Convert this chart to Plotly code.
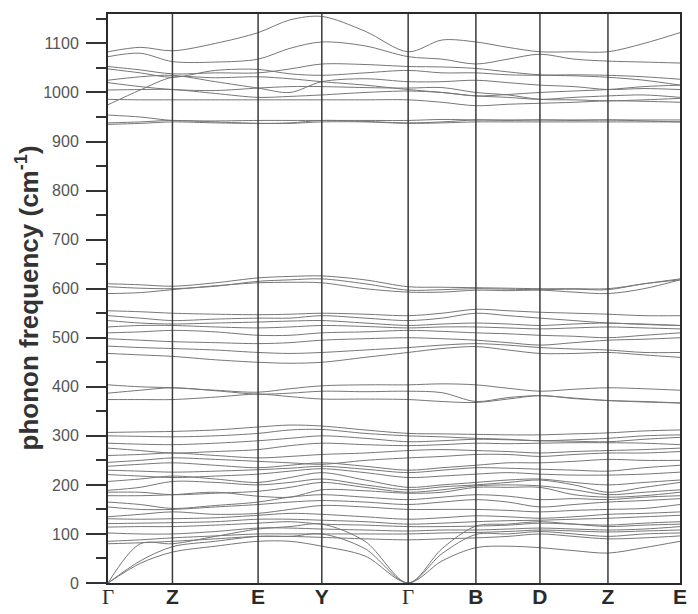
import plotly.graph_objects as go

# High-symmetry k-path (cumulative distance) and labels
kpoint_pos = [0, 64.4, 150, 213.7, 300, 367.7, 431.7, 499.7, 571.7]
kpoint_labels = ['<span style="font-family:Liberation Serif;font-weight:normal">Γ</span>',
                 "<b>Z</b>", "<b>E</b>", "<b>Y</b>",
                 '<span style="font-family:Liberation Serif;font-weight:normal">Γ</span>',
                 "<b>B</b>", "<b>D</b>", "<b>Z</b>", "<b>E</b>"]

# Band frequencies (cm^-1) sampled at: Γ, mid, Z, mid, E, mid, Y, mid, Γ, mid, B, mid, D, mid, Z, mid, E
high_bands = [
    [1083, 1092, 1085, 1100, 1122, 1148, 1155, 1125, 1083, 1107, 1103, 1092, 1083, 1083, 1083, 1100, 1122],
    [1073, 1080, 1063, 1062, 1068, 1090, 1103, 1095, 1073, 1068, 1058, 1068, 1078, 1068, 1064, 1062, 1060],
    [1053, 1046, 1038, 1040, 1040, 1048, 1058, 1057, 1053, 1052, 1049, 1042, 1036, 1036, 1035, 1032, 1027],
    [1048, 1040, 1031, 1045, 1047, 1038, 1035, 1040, 1045, 1040, 1040, 1036, 1035, 1034, 1031, 1025, 1015],
    [1025, 1032, 1035, 1022, 1009, 1000, 1022, 1028, 1022, 1022, 1025, 1020, 1015, 1012, 1006, 1008, 1006],
    [1020, 1012, 1006, 1004, 1009, 1012, 1012, 1010, 1009, 1010, 1000, 995, 986, 985, 983, 985, 988],
    [1005, 1006, 1006, 998, 990, 992, 995, 1000, 1003, 1000, 993, 990, 986, 990, 993, 995, 990],
    [986, 985, 985, 985, 985, 985, 985, 985, 985, 980, 973, 976, 978, 980, 983, 982, 980],
    [975, 1005, 1031, 1030, 1032, 1028, 1022, 1015, 1006, 1000, 993, 996, 1000, 1003, 1006, 1012, 1015],
    [954, 950, 943, 942, 943, 943, 943, 943, 943, 945, 944, 944, 944, 944, 944, 944, 944],
    [938, 940, 943, 940, 937, 938, 943, 941, 938, 940, 944, 943, 944, 943, 944, 942, 940],
    [935, 937, 940, 938, 937, 937, 940, 940, 937, 938, 940, 940, 940, 940, 940, 940, 940],
]
band_600 = [
    [610, 608, 605, 612, 622, 625, 626, 618, 604, 603, 602, 601, 600, 600, 600, 610, 620],
    [604, 601, 600, 605, 615, 618, 620, 610, 597, 598, 600, 599, 598, 599, 598, 610, 618],
    [590, 592, 598, 606, 612, 613, 612, 600, 593, 593, 597, 596, 597, 593, 590, 600, 618],
]
band_500 = [
    [555, 553, 550, 548, 547, 548, 550, 548, 545, 550, 558, 555, 552, 550, 548, 545, 545],
    [545, 540, 535, 538, 540, 540, 545, 540, 535, 540, 550, 545, 540, 535, 530, 528, 525],
    [535, 530, 528, 530, 532, 534, 535, 530, 525, 528, 530, 528, 525, 528, 530, 527, 525],
    [522, 525, 525, 522, 520, 522, 525, 523, 520, 522, 522, 520, 518, 520, 522, 520, 518],
    [510, 512, 515, 512, 505, 505, 510, 512, 515, 513, 510, 508, 505, 503, 500, 505, 510],
    [498, 495, 492, 490, 488, 490, 495, 498, 500, 498, 495, 490, 485, 490, 495, 497, 500],
    [483, 480, 478, 475, 470, 468, 470, 475, 480, 485, 488, 485, 480, 477, 475, 470, 470],
    [468, 465, 462, 455, 450, 448, 450, 460, 470, 478, 482, 475, 468, 468, 470, 465, 460],
]
band_400 = [
    [404, 400, 398, 393, 389, 396, 402, 404, 404, 406, 404, 397, 391, 395, 398, 396, 393],
    [387, 393, 398, 392, 385, 387, 391, 390, 391, 388, 370, 378, 382, 377, 372, 370, 367],
    [374, 374, 374, 379, 385, 380, 375, 375, 374, 370, 368, 375, 382, 376, 372, 369, 367],
]
low_bands = [
    [307, 308, 309, 312, 318, 322, 320, 312, 305, 304, 303, 302, 302, 304, 306, 310, 312],
    [300, 299, 298, 300, 305, 312, 313, 305, 300, 298, 295, 293, 290, 292, 295, 300, 302],
    [285, 283, 282, 285, 290, 295, 300, 295, 288, 290, 293, 292, 290, 289, 288, 293, 297],
    [275, 270, 265, 268, 272, 280, 285, 282, 280, 282, 285, 284, 285, 286, 286, 285, 282],
    [260, 262, 265, 260, 255, 258, 262, 265, 270, 272, 270, 268, 265, 268, 270, 272, 275],
    [246, 250, 255, 252, 248, 245, 242, 250, 255, 258, 262, 262, 258, 262, 265, 265, 268],
    [238, 242, 245, 240, 235, 240, 245, 238, 230, 235, 240, 245, 245, 248, 252, 250, 250],
    [230, 228, 226, 228, 231, 234, 238, 232, 225, 230, 235, 234, 232, 230, 228, 235, 240],
    [221, 218, 215, 218, 222, 228, 233, 225, 215, 218, 222, 225, 222, 220, 220, 222, 226],
    [207, 212, 218, 212, 205, 215, 225, 210, 195, 200, 205, 210, 212, 205, 200, 205, 210],
    [189, 195, 207, 205, 200, 205, 212, 200, 190, 196, 200, 205, 210, 200, 185, 195, 205],
    [185, 185, 180, 183, 187, 195, 205, 195, 185, 190, 198, 200, 198, 190, 180, 185, 190],
    [178, 178, 180, 185, 177, 175, 190, 188, 183, 185, 195, 195, 195, 180, 175, 178, 185],
    [165, 160, 152, 158, 165, 175, 180, 175, 170, 175, 180, 177, 170, 172, 170, 175, 178],
    [155, 150, 150, 155, 160, 165, 168, 165, 160, 165, 170, 165, 155, 160, 165, 168, 172],
    [135, 140, 145, 140, 142, 150, 158, 155, 150, 150, 150, 148, 145, 148, 150, 152, 160],
    [131, 130, 131, 133, 138, 142, 140, 135, 130, 133, 137, 135, 132, 135, 140, 142, 145],
    [121, 122, 123, 125, 130, 130, 128, 125, 120, 122, 125, 127, 128, 130, 132, 135, 138],
    [114, 115, 115, 118, 122, 125, 120, 118, 115, 115, 116, 118, 122, 120, 118, 122, 125],
    [102, 100, 100, 105, 112, 112, 110, 108, 106, 108, 108, 110, 112, 110, 108, 110, 115],
    [85, 88, 92, 96, 100, 100, 100, 100, 100, 102, 103, 105, 108, 106, 104, 106, 108],
    [80, 82, 85, 90, 95, 95, 93, 90, 88, 90, 92, 95, 100, 95, 90, 92, 96],
]
acoustic_bands = [
    [0, 40, 63, 75, 85, 85, 75, 55, 0, 45, 72, 75, 72, 66, 61, 72, 85],
    [0, 45, 74, 85, 95, 95, 100, 70, 0, 60, 99, 100, 105, 100, 95, 100, 102],
    [0, 80, 80, 95, 110, 115, 120, 85, 0, 70, 116, 120, 125, 120, 115, 118, 120],
]

# sample positions: k-points plus midpoints
xs = []
for i in range(len(kpoint_pos) - 1):
    xs.append(kpoint_pos[i])
    xs.append((kpoint_pos[i] + kpoint_pos[i + 1]) / 2)
xs.append(kpoint_pos[-1])

fig = go.Figure()
all_bands = high_bands + band_600 + band_500 + band_400 + low_bands + acoustic_bands
for b in all_bands:
    fig.add_trace(go.Scatter(x=xs, y=b, mode="lines",
                             line=dict(color="#777777", width=1, shape="spline", smoothing=0.9),
                             showlegend=False, hoverinfo="skip"))

for xp in kpoint_pos[1:-1]:
    fig.add_shape(type="line", x0=xp, x1=xp, y0=0, y1=1, xref="x", yref="paper",
                  line=dict(color="#3a3a3a", width=1.5), layer="above")

fig.add_annotation(text="<b>phonon frequency (cm<sup>-1</sup>)</b>", xref="paper", yref="paper",
                   x=(20 - 100) / 572, y=0.5, xanchor="center", yanchor="middle",
                   textangle=-90, showarrow=False,
                   font=dict(family="Liberation Sans, Arial", size=26, color="#333333"))

fig.update_layout(
    width=690, height=606,
    margin=dict(l=100, r=18, t=6, b=30.5),
    plot_bgcolor="white", paper_bgcolor="white",
    xaxis=dict(range=[0, kpoint_pos[-1]], tickmode="array", tickvals=kpoint_pos, ticktext=kpoint_labels,
               automargin=False, ticklabelstandoff=-6,
               showgrid=False, zeroline=False, showline=True, linecolor="#2a2a2a", linewidth=2, mirror=True,
               ticks="", tickfont=dict(family="Liberation Sans, Arial", size=21, color="#2a2a2a")),
    yaxis=dict(range=[0, 1160], tickmode="array", tickvals=list(range(0, 1101, 100)),
               automargin=False,
               showgrid=False, zeroline=False, showline=True, linecolor="#2a2a2a", linewidth=2, mirror=True,
               ticks="outside", ticklen=20, tickwidth=2, tickcolor="#333333",
               minor=dict(tickvals=list(range(50, 1151, 100)), ticks="outside", ticklen=10, tickwidth=2,
                          tickcolor="#333333"),
               ticklabelstandoff=4,
               tickfont=dict(family="Liberation Sans, Arial", size=16, color="#555555")),
)

fig.write_html("out.html")
